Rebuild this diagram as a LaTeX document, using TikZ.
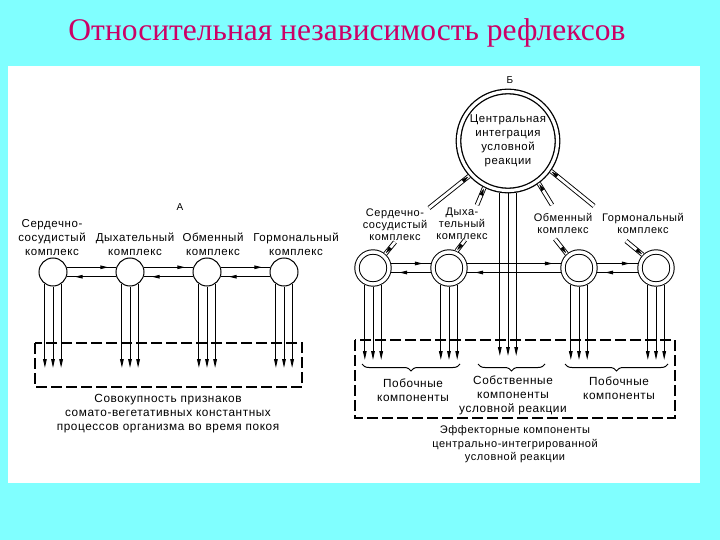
\documentclass[tikz,border=0pt]{standalone}
\usepackage{fontspec}
\setmainfont{Liberation Serif}
\newfontfamily\labfont{Liberation Sans}[LetterSpace=5.0]
\usetikzlibrary{arrows.meta,decorations.markings,decorations.pathreplacing,calc}
\definecolor{bgcyan}{RGB}{128,255,255}
\definecolor{titlecol}{RGB}{204,0,102}
\begin{document}
\begin{tikzpicture}[x=1pt,y=-1pt,
  every node/.style={inner sep=0pt,outer sep=0pt},
  lnw/.style={line width=1pt},
  varr/.style={lnw,-{Triangle[length=9pt,width=3.6pt]}},
  harr/.style={lnw,decoration={markings,mark=at position -8pt with {\arrow{Triangle[length=8pt,width=3.6pt]}}},postaction={decorate}},
  acirc/.style={circle,draw,lnw,minimum size=28pt,outer sep=0.5pt},
  bcirc/.style={circle,draw,line width=1pt,double,double distance=3.4pt,minimum size=32pt,outer sep=2.7pt},
  bigcirc/.style={circle,draw,line width=1.3pt,double,double distance=3.2pt,minimum size=99pt,outer sep=2.9pt,align=center,font=\labfont\fontsize{11.4}{14}\selectfont},
  tube/.style={line width=0.9pt,double,double distance=2.8pt},
  tubetip/.style={decorate,decoration={markings,mark=at position -1pt with {\arrow{Triangle[length=7pt,width=3.8pt]}}}},
  alab/.style={align=center,font=\labfont\fontsize{11.5}{14}\selectfont},
  blab/.style={align=center,font=\labfont\fontsize{11}{12}\selectfont},
  txt/.style={align=center,font=\labfont\fontsize{11.8}{14}\selectfont},
  dbox/.style={line width=1.1pt,dash pattern=on 11pt off 4pt},
  brc/.style={decorate,decoration={brace,mirror,amplitude=7pt},line width=1pt}
]
\useasboundingbox (0,0) rectangle (720,540);
\fill[bgcyan] (0,0) rectangle (720,540);
\fill[white] (8,66) rectangle (700,483);
\node[font=\fontsize{31.5}{36}\selectfont,text=titlecol] (title) at (347,33) {Относительная независимость рефлексов};

% ---------- Part A ----------
\node[font=\labfont\fontsize{10}{12}\selectfont] (labA) at (180,207) {А};
\node[alab] (la1) at (52,237.5) {Сердечно-\\сосудистый\\комплекс};
\node[alab] (la2) at (135,244.5) {Дыхательный\\комплекс};
\node[alab] (la3) at (213,244.5) {Обменный\\комплекс};
\node[alab] (la4) at (296,244.5) {Гормональный\\комплекс};
\node[acirc] (a1) at (53,272) {};
\node[acirc] (a2) at (130,272) {};
\node[acirc] (a3) at (207,272) {};
\node[acirc] (a4) at (284,272) {};
\coordinate (yA) at (0,368);
\foreach \n in {a1,a2,a3,a4}{
  \foreach \ang in {236,270,304}{\draw[varr] (\n.\ang) -- (\n.\ang |- yA);}
}
\draw[harr] (a1.19) -- (a2.161);
\draw[harr] (a2.199) -- (a1.341);
\draw[harr] (a2.19) -- (a3.161);
\draw[harr] (a3.199) -- (a2.341);
\draw[harr] (a3.19) -- (a4.161);
\draw[harr] (a4.199) -- (a3.341);
\draw[dbox] (35,343) rectangle (302,387);
\node[txt] (sumA) at (168,414) {Совокупность признаков\\сомато-вегетативных константных\\процессов организма во время покоя};

% ---------- Part B ----------
\node[font=\labfont\fontsize{10}{12}\selectfont] (labB) at (510,80) {Б};
\node[bigcirc] (B) at (508,141) {Центральная\\интеграция\\условной\\реакции};
\node[blab] (lb1) at (395,225) {Сердечно-\\сосудистый\\комплекс};
\node[blab] (lb2) at (462,223.5) {Дыха-\\тельный\\комплекс};
\node[blab] (lb3) at (563,223) {Обменный\\комплекс};
\node[blab] (lb4) at (643,223.5) {Гормональный\\комплекс};
\node[bcirc] (b1) at (373,268) {};
\node[bcirc] (b2) at (449,268) {};
\node[bcirc] (b3) at (579,268) {};
\node[bcirc] (b4) at (656,268) {};
% tubes to the central circle
\coordinate (tl1) at (429,208);
\coordinate (tl2) at (477,205);
\coordinate (tl3) at (552,205);
\coordinate (tl4) at (594,206);
\draw[tube] (tl1) -- (B.222); \path[tubetip] (tl1) -- (B.222);
\draw[tube] (tl2) -- (B.243); \path[tubetip] (tl2) -- (B.243);
\draw[tube] (tl3) -- (B.306); \path[tubetip] (tl3) -- (B.306);
\draw[tube] (tl4) -- (B.325); \path[tubetip] (tl4) -- (B.325);
% tubes to the small circles
\coordinate (sl1) at (395,242);
\coordinate (sl2) at (465,240);
\coordinate (sl3) at (555,239);
\coordinate (sl4) at (626,241);
\draw[tube] (sl1) -- (b1.49);  \path[tubetip] (sl1) -- (b1.49);
\draw[tube] (sl2) -- (b2.66);  \path[tubetip] (sl2) -- (b2.66);
\draw[tube] (sl3) -- (b3.131); \path[tubetip] (sl3) -- (b3.131);
\draw[tube] (sl4) -- (b4.135); \path[tubetip] (sl4) -- (b4.135);
% vertical effector arrows
\coordinate (yB) at (0,360);
\coordinate (yC) at (0,356);
\foreach \n in {b1,b2,b3,b4}{
  \foreach \ang in {244,270,296}{\draw[varr] (\n.\ang) -- (\n.\ang |- yB);}
}
\foreach \ang in {261,270,279}{\draw[varr] (B.\ang) -- (B.\ang |- yC);}
% horizontal links
\draw[harr] (b1.14) -- (b2.166);
\draw[harr] (b2.194) -- (b1.346);
\draw[harr] (b2.14) -- (b3.166);
\draw[harr] (b3.194) -- (b2.346);
\draw[harr] (b3.14) -- (b4.166);
\draw[harr] (b4.194) -- (b3.346);
% box and braces
\draw[dbox] (355,340) rectangle (675,418);
\draw[brc] (362,364) -- (460,364);
\draw[brc] (478,364) -- (545,364);
\draw[brc] (565,364) -- (668,364);
\node[txt] (pb1) at (413,390.5) {Побочные\\компоненты};
\node[txt] (sob) at (513,395) {Собственные\\компоненты\\условной реакции};
\node[txt] (pb2) at (619,388) {Побочные\\компоненты};
\node[txt,font=\labfont\fontsize{11}{13.5}\selectfont] (eff) at (515,444.5) {Эффекторные компоненты\\центрально-интегрированной\\условной реакции};
\end{tikzpicture}
\end{document}
